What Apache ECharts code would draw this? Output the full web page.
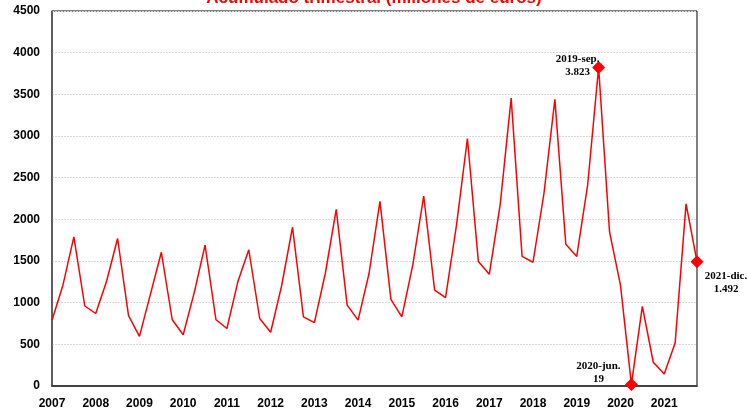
<!DOCTYPE html>
<html>
<head>
<meta charset="utf-8">
<script src="https://cdn.jsdelivr.net/npm/echarts@6/dist/echarts.min.js"></script>
<style>
  html, body { margin: 0; padding: 0; background: #fff; }
  #chart { width: 748px; height: 415px; }
</style>
</head>
<body>
<div id="chart"></div>
<script>
var years = [2007, 2008, 2009, 2010, 2011, 2012, 2013, 2014, 2015, 2016, 2017, 2018, 2019, 2020, 2021]
var quarters = ['mar', 'jun', 'sep', 'dic']

// acumulado trimestral, millones de euros (2007-mar ... 2021-dic)
var values = [
  790, 1210, 1790, 960,
  870, 1260, 1770, 845,
  595, 1100, 1605, 795,
  615, 1115, 1690, 795,
  690, 1250, 1635, 810,
  645, 1200, 1905, 830,
  760, 1350, 2120, 970,
  790, 1350, 2215, 1040,
  830, 1450, 2280, 1150,
  1060, 1930, 2970, 1495,
  1340, 2180, 3455, 1555,
  1485, 2310, 3440, 1700,
  1555, 2415, 3823, 1850,
  1210, 19, 955, 285,
  145, 515, 2185, 1492
]

// puntos destacados
var marks = [
  { idx: 50, text: '2019-sep.\n3.823', offset: [-21, -2] },
  { idx: 53, text: '2020-jun.\n19', offset: [-33, -12] },
  { idx: 59, text: '2021-dic.\n1.492', offset: [29, 21] }
]

var categories = []
years.forEach(function(y) {
  quarters.forEach(function(q) {
    categories.push(y + '-' + q)
  })
})

var seriesData = values.map(function(v, i) {
  var m = marks.filter(function(item) { return item.idx === i })[0]
  if (!m) return v
  return {
    value: v,
    symbol: 'diamond',
    symbolSize: 13,
    label: {
      show: true,
      position: 'inside',
      offset: m.offset,
      formatter: m.text,
      align: 'center',
      verticalAlign: 'middle',
      color: '#000',
      fontFamily: 'Liberation Serif',
      fontWeight: 'bold',
      fontSize: 11,
      lineHeight: 13
    }
  }
})

var myChart = echarts.init(document.getElementById('chart'))
var option = {
  animation: false,
  title: {
    text: 'Acumulado trimestral (millones de euros)',
    left: 'center',
    top: -15,
    textStyle: {
      color: '#ff0000',
      fontFamily: 'Liberation Sans',
      fontWeight: 'bold',
      fontSize: 17
    }
  },
  grid: {
    left: 52,
    right: 51,
    top: 11,
    bottom: 29,
    show: true,
    borderColor: '#000',
    borderWidth: 1
  },
  xAxis: {
    type: 'category',
    data: categories,
    boundaryGap: false,
    axisLine: { lineStyle: { color: '#444', width: 2 } },
    axisTick: { show: false },
    axisLabel: {
      interval: 3,
      margin: 12,
      color: '#000',
      fontFamily: 'Liberation Sans',
      fontWeight: 'bold',
      fontSize: 12,
      formatter: function(v) { return v.split('-')[0] }
    },
    splitLine: { show: false }
  },
  yAxis: {
    type: 'value',
    min: 0,
    max: 4500,
    interval: 500,
    axisLine: { show: true, lineStyle: { color: '#555', width: 1.5 } },
    axisTick: { show: false },
    axisLabel: {
      margin: 12,
      color: '#000',
      fontFamily: 'Liberation Sans',
      fontWeight: 'bold',
      fontSize: 12,
      formatter: function(v) { return String(v) }
    },
    splitLine: { lineStyle: { color: '#d9d9d9', type: [2, 1], width: 1 } }
  },
  series: [
    {
      type: 'line',
      data: seriesData,
      symbol: 'none',
      showAllSymbol: true,
      lineStyle: { color: '#ff0000', width: 1.5 },
      itemStyle: { color: '#ff0000' }
    }
  ]
}
myChart.setOption(option)
window.onresize = function() {
  myChart.resize()
}
</script>
</body>
</html>
